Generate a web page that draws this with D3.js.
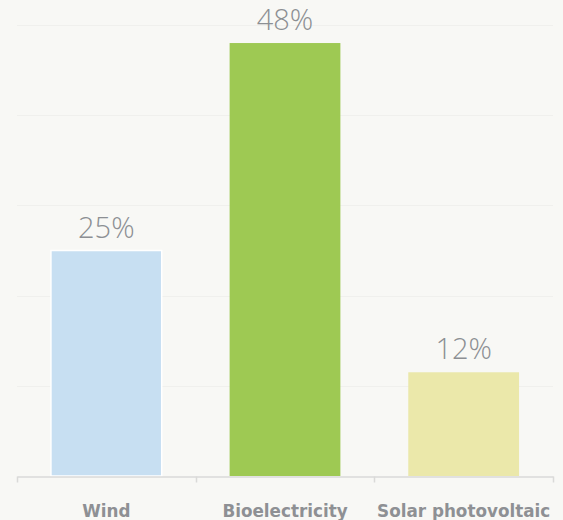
<!DOCTYPE html>
<html><head><meta charset="utf-8">
<script src="https://cdn.jsdelivr.net/npm/d3@7"></script>
<style>
html,body{margin:0;padding:0;background:#f8f8f5;}
svg{display:block;}
</style></head>
<body>
<svg id="chart" width="563" height="520"></svg>
<script>
const categories = ["Wind", "Bioelectricity", "Solar photovoltaic"];
const values = [25, 48, 11.5];
const valueLabels = ["25%", "48%", "12%"];
const colors = ["#c7dff2", "#9ec953", "#ebe8aa"];
const yTicks = [0, 10, 20, 30, 40, 50];

const svg = d3.select("#chart");
const m = {left: 17, right: 10, top: 25, bottom: 44};
const plotBottom = 476;

const x = d3.scaleBand().domain(categories).range([m.left, 553]).paddingInner(0.38).paddingOuter(0.19);
const y = d3.scaleLinear().domain([0, 50]).range([plotBottom, 25]);

// gridlines
svg.append("g").selectAll("line").data(yTicks.filter(d => d > 0)).join("line")
  .attr("x1", m.left).attr("x2", 553)
  .attr("y1", d => Math.round(y(d)) + 0.5).attr("y2", d => Math.round(y(d)) + 0.5)
  .attr("stroke", "#f0f0ed").attr("stroke-width", 1);

// bars
svg.append("g").selectAll("rect").data(categories).join("rect")
  .attr("x", d => x(d))
  .attr("y", (d, i) => y(values[i]))
  .attr("width", x.bandwidth())
  .attr("height", (d, i) => plotBottom - y(values[i]))
  .attr("fill", (d, i) => colors[i])
  .attr("stroke", (d, i) => i === 0 ? "#ffffff" : "none")
  .attr("stroke-width", 1.5);

// x axis
const xAxis = d3.axisBottom(x).tickSize(0).tickFormat(d => d);
const ax = svg.append("g").attr("transform", `translate(0,${plotBottom + 0.5})`).call(xAxis);
ax.select(".domain").attr("stroke", "#dadad8").attr("stroke-width", 1.5);
ax.selectAll(".tick text")
  .attr("y", 40.5)
  .attr("dy", 0)
  .attr("fill", "#8e9094")
  .attr("font-family", "'DejaVu Sans', sans-serif")
  .attr("font-weight", "bold")
  .attr("font-size", "16.8px");
// boundary ticks
const bounds = [x.range()[0], ...categories.slice(1).map(c => x(c) - x.step() * x.paddingInner() / 2), x.range()[1]];
ax.append("g").selectAll("line").data(bounds).join("line")
  .attr("x1", d => Math.round(d) + 0.5).attr("x2", d => Math.round(d) + 0.5)
  .attr("y1", 0).attr("y2", 6)
  .attr("stroke", "#dadad8").attr("stroke-width", 1.5);

// value labels
svg.append("g").selectAll("text").data(categories).join("text")
  .attr("x", d => x(d) + x.bandwidth() / 2)
  .attr("y", (d, i) => y(values[i]) - 13)
  .attr("text-anchor", "middle")
  .attr("fill", "#8c8f93")
  .attr("font-family", "'Open Sans', sans-serif")
  .attr("font-weight", 300)
  .attr("font-size", "29px")
  .text((d, i) => valueLabels[i]);
</script>
</body></html>
